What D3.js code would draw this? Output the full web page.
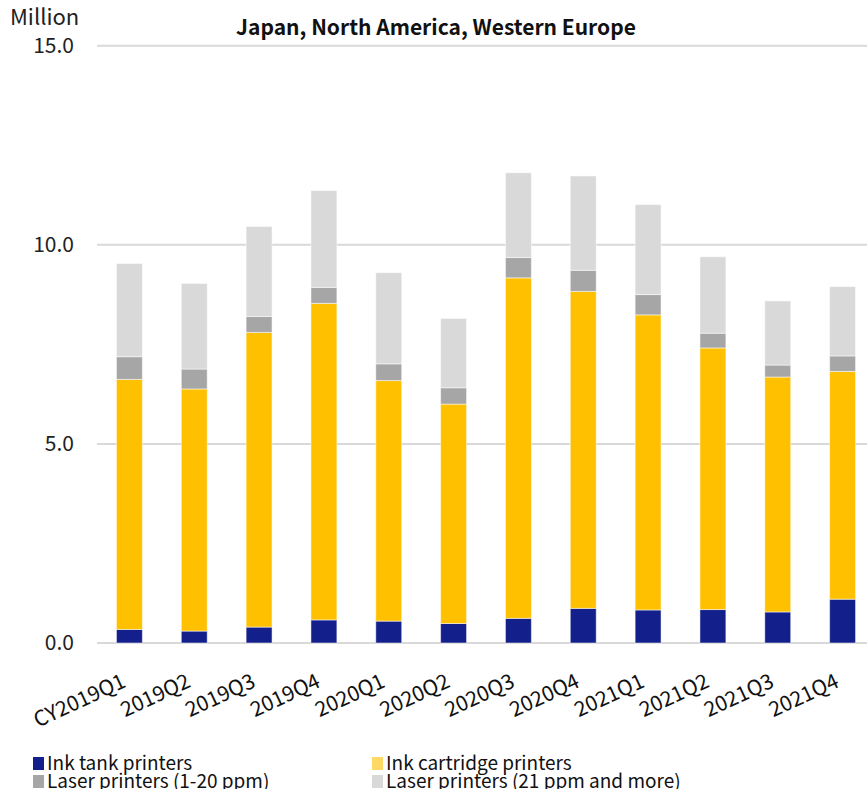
<!DOCTYPE html>
<html>
<head>
<meta charset="utf-8">
<script src="https://cdn.jsdelivr.net/npm/d3@7"></script>
<style>
  body { margin: 0; background: #fff; }
  text { font-family: "Noto Sans CJK JP", "Noto Sans", sans-serif; }
</style>
</head>
<body>
<script>
// quarters on the x axis
var quarters = ["CY2019Q1","2019Q2","2019Q3","2019Q4","2020Q1","2020Q2","2020Q3","2020Q4","2021Q1","2021Q2","2021Q3","2021Q4"];

// values in million units
var inkTank      = [0.34, 0.30, 0.40, 0.58, 0.55, 0.49, 0.62, 0.87, 0.83, 0.84, 0.78, 1.10];
var inkCartridge = [6.28, 6.08, 7.40, 7.95, 6.04, 5.51, 8.55, 7.96, 7.41, 6.57, 5.90, 5.72];
var laserSmall   = [0.57, 0.50, 0.40, 0.40, 0.42, 0.41, 0.51, 0.53, 0.51, 0.37, 0.30, 0.39];
var laserLarge   = [2.34, 2.15, 2.26, 2.43, 2.29, 1.74, 2.13, 2.37, 2.26, 1.92, 1.61, 1.74];

var seriesNames = ["Ink tank printers","Ink cartridge printers","Laser printers (1-20 ppm)","Laser printers (21 ppm and more)"];
var yTicks = [0, 5, 10, 15];

var colors = ["#13208b", "#ffc000", "#a6a6a6", "#d9d9d9"];
var legendColors = ["#13208b", "#ffd966", "#a6a6a6", "#d9d9d9"];

var width = 867, height = 789;
var svg = d3.select("body").append("svg").attr("width", width).attr("height", height);

var x = d3.scaleBand().domain(quarters).range([97, 875]).paddingInner(0.6).paddingOuter(0.3);
var y = d3.scaleLinear().domain([0, 15]).range([643, 45.7]);

// build rows for the stack
var keys = ["tank","cart","lsmall","llarge"];
var rows = quarters.map(function(q, i) {
  return { q: q, tank: inkTank[i], cart: inkCartridge[i], lsmall: laserSmall[i], llarge: laserLarge[i] };
});
var stacked = d3.stack().keys(keys)(rows);

// gridlines
svg.append("g").selectAll("line")
  .data(yTicks)
  .enter().append("line")
  .attr("x1", 97).attr("x2", width)
  .attr("y1", function(d) { return y(d); })
  .attr("y2", function(d) { return y(d); })
  .attr("stroke", "#d9d9d9")
  .attr("stroke-width", 2);

// y tick labels
svg.append("g").selectAll("text")
  .data(yTicks)
  .enter().append("text")
  .attr("x", 74)
  .attr("y", function(d) { return y(d) + 7; })
  .attr("text-anchor", "end")
  .attr("font-size", 21)
  .attr("fill", "#222")
  .text(function(d) { return d.toFixed(1); });

svg.append("text")
  .attr("x", 10).attr("y", 25)
  .attr("font-size", 22)
  .attr("fill", "#222")
  .text("Million");

svg.append("text")
  .attr("x", 436).attr("y", 35)
  .attr("text-anchor", "middle")
  .attr("font-size", 21)
  .attr("font-weight", "bold")
  .attr("fill", "#111")
  .text("Japan, North America, Western Europe");

// bars
svg.append("g").selectAll("g")
  .data(stacked)
  .enter().append("g")
  .attr("fill", function(d, i) { return colors[i]; })
  .selectAll("rect")
  .data(function(d) { return d; })
  .enter().append("rect")
  .attr("x", function(d) { return x(d.data.q); })
  .attr("width", x.bandwidth())
  .attr("y", function(d) { return y(d[1]); })
  .attr("height", function(d) { return y(d[0]) - y(d[1]); })
  .attr("stroke", "rgba(255,255,255,0.5)")
  .attr("stroke-width", 1);

// x labels, rotated
svg.append("g").selectAll("text")
  .data(quarters)
  .enter().append("text")
  .attr("transform", function(d) {
    return "translate(" + (x(d) + x.bandwidth() / 2 - 9) + ",672) rotate(-25)";
  })
  .attr("text-anchor", "end")
  .attr("dy", "0.75em")
  .attr("font-size", 21)
  .attr("fill", "#111")
  .text(function(d) { return d; });

// legend
var legendPos = [[33, 757], [372, 757], [33, 775], [372, 775]];
var legend = svg.append("g").selectAll("g")
  .data(seriesNames)
  .enter().append("g")
  .attr("transform", function(d, i) { return "translate(" + legendPos[i][0] + "," + legendPos[i][1] + ")"; });

legend.append("rect")
  .attr("width", 11).attr("height", 13)
  .attr("fill", function(d, i) { return legendColors[i]; });

legend.append("text")
  .attr("x", 14).attr("y", 13)
  .attr("font-size", 19)
  .attr("fill", "#111")
  .text(function(d) { return d; });
</script>
</body>
</html>
